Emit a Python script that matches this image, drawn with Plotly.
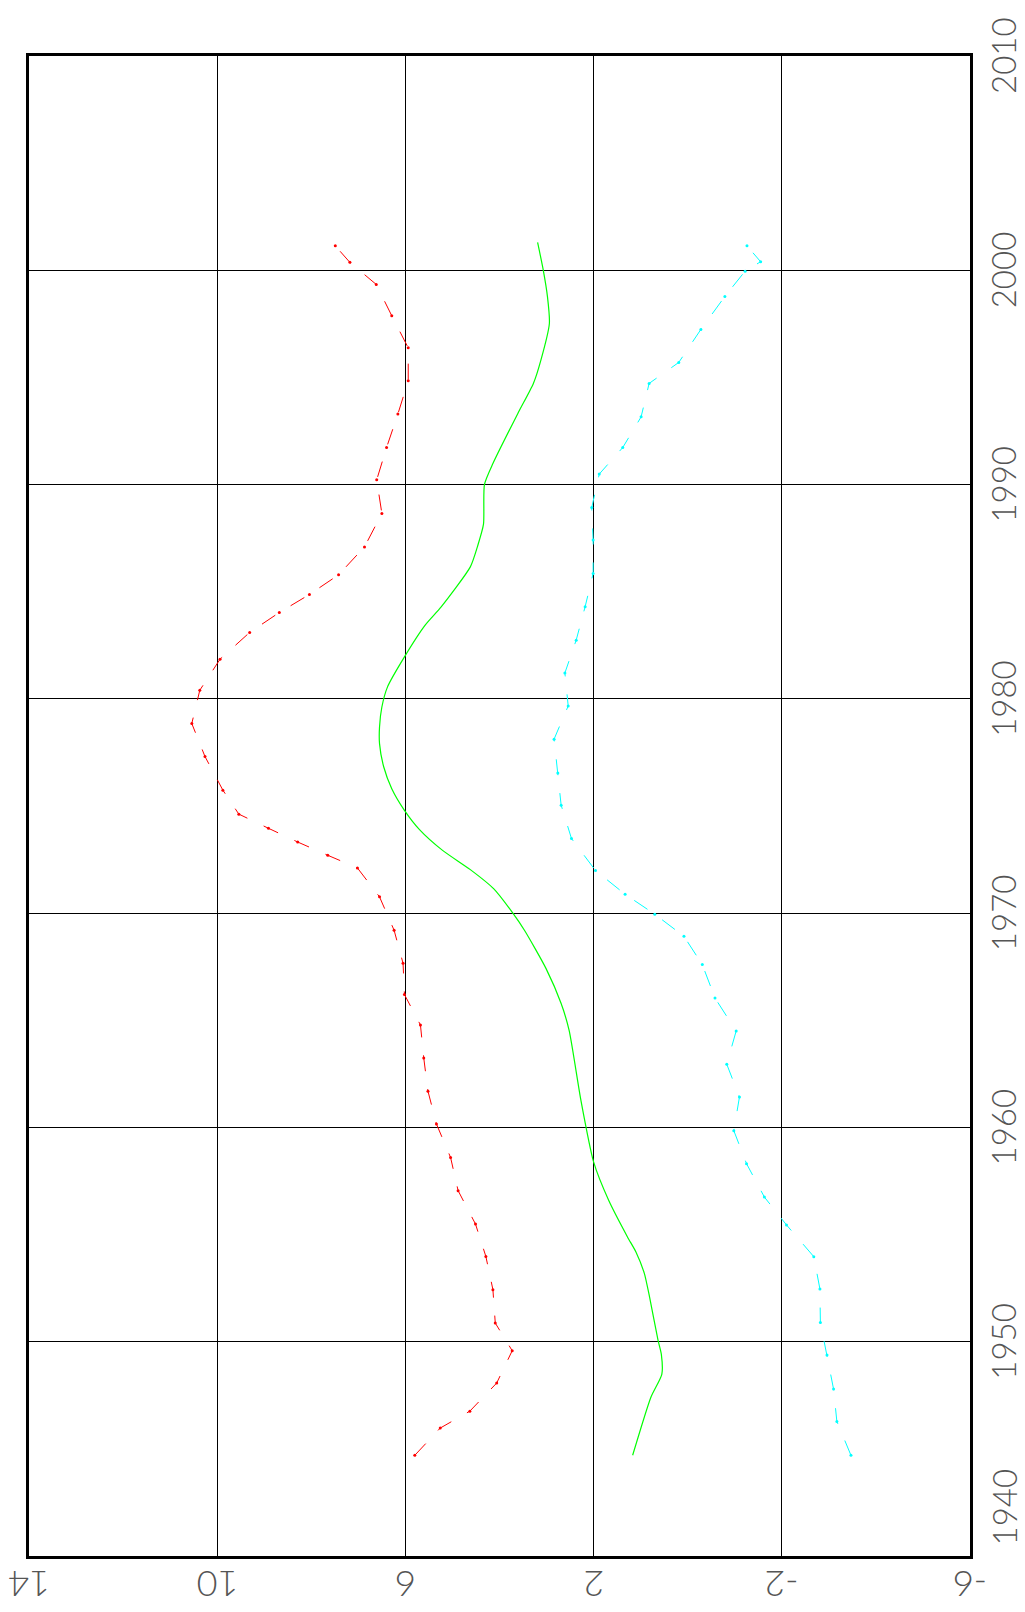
import plotly.graph_objects as go

# ---- data ----
value_ticks = [14, 10, 6, 2, -2, -6]
value_tick_text = ["14", "10", "6", "2", "-2", "-6"]
year_ticks = [1940, 1950, 1960, 1970, 1980, 1990, 2000, 2010]
year_tick_text = ["1940", "1950", "1960", "1970", "1980", "1990", "2000", "2010"]

red_years = [1944.70, 1945.97, 1946.76, 1948.07, 1949.58, 1950.87, 1952.43, 1953.98, 1955.49,
             1957.05, 1958.60, 1960.16, 1961.69, 1963.24, 1964.78, 1966.20, 1967.66, 1969.20,
             1970.76, 1972.11, 1972.70, 1973.32, 1973.96, 1974.62, 1975.74, 1977.31, 1978.85,
             1980.40, 1981.85, 1983.10, 1984.03, 1984.87, 1985.79, 1987.09, 1988.65, 1990.22,
             1991.73, 1993.29, 1994.84, 1996.38, 1997.88, 1999.34, 2000.37, 2001.14]
red_vals = [5.80, 5.26, 4.63, 4.06, 3.73, 4.09, 4.14, 4.29, 4.51,
            4.88, 5.04, 5.34, 5.52, 5.61, 5.68, 6.02, 6.05, 6.24,
            6.55, 7.02, 7.65, 8.29, 8.91, 9.54, 9.88, 10.26, 10.54,
            10.37, 9.94, 9.31, 8.68, 8.04, 7.42, 6.87, 6.50, 6.61,
            6.40, 6.16, 5.94, 5.94, 6.29, 6.62, 7.18, 7.49]

green_years = [1944.70, 1947.42, 1948.48, 1949.41, 1950.06, 1952.08, 1953.18, 1954.19, 1954.89,
               1956.60, 1958.39, 1961.27, 1964.53, 1965.78, 1967.41, 1969.20, 1970.01, 1971.13,
               1972.03, 1972.93, 1973.90, 1974.80, 1975.81, 1976.82, 1977.91, 1978.69, 1979.62,
               1980.56, 1981.96, 1983.44, 1984.29, 1986.16, 1987.17, 1988.15, 1990.00, 1990.98,
               1993.32, 1994.72, 1995.81, 1997.52, 1998.76, 2000.01, 2001.30]
green_vals = [1.17, 0.78, 0.55, 0.56, 0.63, 0.81, 0.92, 1.10, 1.28,
              1.68, 2.00, 2.27, 2.52, 2.69, 3.01, 3.47, 3.72, 4.12,
              4.62, 5.21, 5.70, 6.02, 6.29, 6.46, 6.55, 6.55, 6.50,
              6.38, 6.02, 5.58, 5.24, 4.62, 4.46, 4.34, 4.32, 4.14,
              3.61, 3.28, 3.12, 2.94, 2.98, 3.07, 3.19]

cyan_years = [1944.70, 1946.28, 1947.79, 1949.38, 1950.90, 1952.46, 1953.97, 1955.45, 1956.75,
              1958.31, 1959.85, 1961.42, 1962.95, 1964.50, 1966.04, 1967.60, 1968.92, 1969.95,
              1970.88, 1971.99, 1973.48, 1975.04, 1976.54, 1978.12, 1979.67, 1981.21, 1982.74,
              1984.30, 1985.85, 1987.41, 1988.93, 1990.49, 1991.73, 1993.16, 1994.72, 1995.70,
              1997.24, 1998.78, 1999.96, 2000.40, 2001.14]
cyan_vals = [-3.47, -3.17, -3.10, -2.96, -2.82, -2.81, -2.68, -2.10, -1.63,
             -1.25, -0.98, -1.10, -0.83, -1.03, -0.58, -0.31, 0.08, 0.70,
             1.33, 1.96, 2.47, 2.69, 2.76, 2.84, 2.54, 2.61, 2.37,
             2.18, 2.01, 2.01, 2.04, 1.88, 1.38, 0.99, 0.82, 0.19,
             -0.28, -0.79, -1.22, -1.55, -1.26]

fig = go.Figure()

fig.add_trace(go.Scatter(
    x=red_vals, y=red_years, mode="lines+markers",
    line=dict(color="#ff0000", width=1, dash="16px,18px"),
    marker=dict(color="#ff0000", size=3),
    showlegend=False, hoverinfo="skip"))

fig.add_trace(go.Scatter(
    x=green_vals, y=green_years, mode="lines",
    line=dict(color="#00ff00", width=1.2, shape="spline", smoothing=0.6),
    showlegend=False, hoverinfo="skip"))

fig.add_trace(go.Scatter(
    x=cyan_vals, y=cyan_years, mode="lines+markers",
    line=dict(color="#00ffff", width=1, dash="16px,18px"),
    marker=dict(color="#00ffff", size=3),
    showlegend=False, hoverinfo="skip"))

x_font = dict(family="Lato, 'Liberation Sans', sans-serif", size=36, color="#555555", weight=300)
y_font = dict(family="Lato, 'Liberation Sans', sans-serif", size=33, color="#555555", weight=300)

# tick labels as rotated annotations (the chart is a landscape plot turned on its side)
annotations = []
for v, t in zip(value_ticks, value_tick_text):
    annotations.append(dict(
        x=v, xref="x", y=0, yref="paper", text=t, showarrow=False,
        textangle=180, font=x_font,
        xanchor="center", yanchor="middle", yshift=-29))
for yv, t in zip(year_ticks, year_tick_text):
    first = (yv == year_ticks[0])
    annotations.append(dict(
        x=1, xref="paper", y=yv, yref="y", text=t, showarrow=False,
        textangle=-90, font=y_font,
        xanchor="center", yanchor="bottom" if first else "middle",
        xshift=33, yshift=8 if first else 0))

fig.update_layout(
    width=1025, height=1612,
    margin=dict(l=29, r=55, t=56, b=56),
    paper_bgcolor="white", plot_bgcolor="white",
    annotations=annotations,
    xaxis=dict(
        range=[14, -6], tickmode="array", tickvals=value_ticks, showticklabels=False,
        ticks="", automargin=False,
        showgrid=True, gridcolor="black", gridwidth=1, zeroline=False,
        showline=True, linecolor="black", linewidth=3, mirror=True),
    yaxis=dict(
        range=[1940, 2010], side="right", tickmode="array", tickvals=year_ticks,
        showticklabels=False, ticks="", automargin=False,
        showgrid=True, gridcolor="black", gridwidth=1, zeroline=False,
        showline=True, linecolor="black", linewidth=3, mirror=True),
)

fig.write_html(
    "out.html",
    config={"displayModeBar": False},
    post_script="document.body.style.margin='0px';document.body.style.overflow='hidden';",
)
